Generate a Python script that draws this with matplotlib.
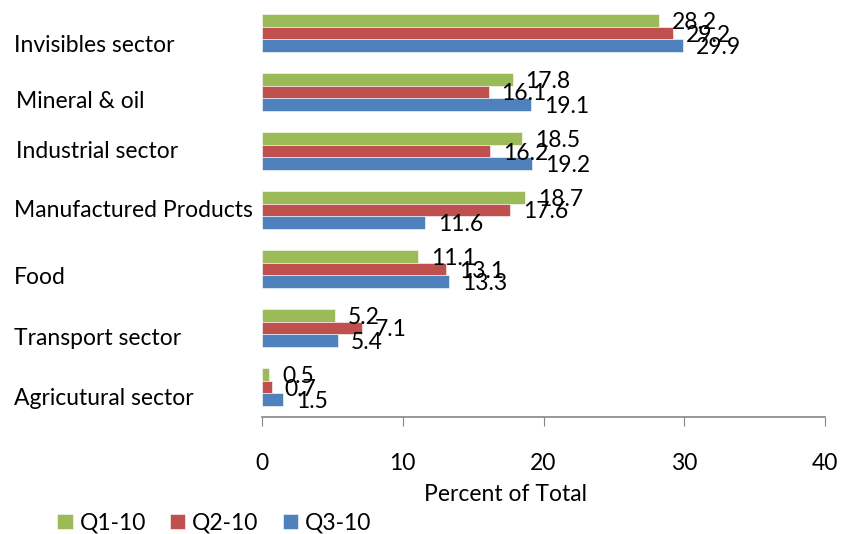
import matplotlib.pyplot as plt
import numpy as np

categories = ["Agricutural sector", "Transport sector", "Food", "Manufactured Products",
              "Industrial sector", "Mineral & oil", "Invisibles sector"]
q1_10 = [0.5, 5.2, 11.1, 18.7, 18.5, 17.8, 28.2]
q2_10 = [0.7, 7.1, 13.1, 17.6, 16.2, 16.1, 29.2]
q3_10 = [1.5, 5.4, 13.3, 11.6, 19.2, 19.1, 29.9]
series_names = ["Q1-10", "Q2-10", "Q3-10"]
xticks = [0, 10, 20, 30, 40]

colors = ["#9BBB59", "#C0504D", "#4F81BD"]
FONT = "Lato"
FS = 16.5

W, H = 841, 534
fig = plt.figure(figsize=(W / 100, H / 100), dpi=100)
ax = fig.add_axes([262 / W, 1 - 416.5 / H, (825 - 262) / W, (416.5 - 3.5) / H])

y = np.arange(len(categories))
h = 0.22
offsets = [h, 0, -h]
bars = []
for vals, off, c, name in zip([q1_10, q2_10, q3_10], offsets, colors, series_names):
    b = ax.barh(y + off, vals, height=h, color=c, edgecolor="#ffffff", linewidth=0.4, label=name)
    bars.append(b)
    for yi, v in zip(y + off, vals):
        ax.annotate(f"{v}", xy=(v, yi), xytext=(13, -2), textcoords="offset pixels",
                    ha="left", va="center", fontsize=FS, family=FONT)

ax.set_xlim(0, 40)
ax.set_ylim(-0.5, len(categories) - 0.5)
ax.set_xticks(xticks)
ax.set_xticklabels([str(t) for t in xticks], fontsize=FS, family=FONT)
ax.set_yticks([])
ax.tick_params(axis="x", direction="out", length=6.5, width=0.8, color="#868686", pad=20)
for s in ["top", "right", "left"]:
    ax.spines[s].set_visible(False)
ax.spines["bottom"].set_color("#868686")
ax.spines["bottom"].set_linewidth(1.2)

# category labels placed like the free text boxes of the original
label_x_px = [14, 14, 14, 14, 16, 16, 14]
label_base_px = [405, 345, 284, 217, 158, 108, 52]
for name, lx, lb in zip(categories, label_x_px, label_base_px):
    fig.text(lx / W, 1 - lb / H, name, ha="left", va="baseline", fontsize=FS, family=FONT)

fig.text(505 / W, 1 - 501 / H, "Percent of Total", ha="center", va="baseline", fontsize=FS, family=FONT)

fig.legend(handles=bars, labels=series_names, loc="center left", bbox_to_anchor=(57 / W, 1 - 523 / H),
           ncol=3, frameon=False, prop={"family": FONT, "size": FS}, handlelength=0.68, handleheight=0.68,
           handletextpad=0.3, columnspacing=1.05, borderaxespad=0, borderpad=0)

fig.savefig("out.png", dpi=100)
